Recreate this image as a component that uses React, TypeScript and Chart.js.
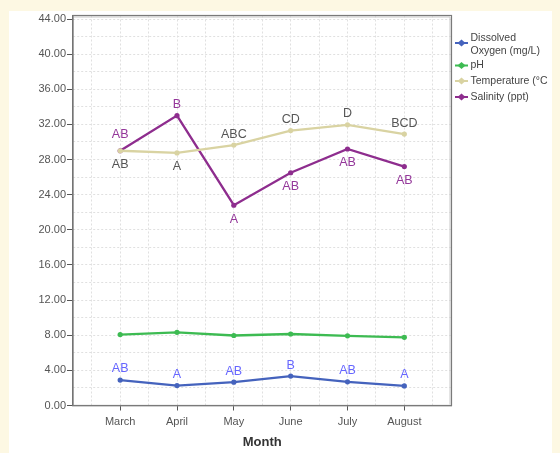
import React, { useEffect, useRef } from 'react';
import { Chart, registerables } from 'chart.js';

Chart.register(...registerables);

const months = ['March', 'April', 'May', 'June', 'July', 'August'];
const dissolvedOxygen = [2.9, 2.27, 2.65, 3.35, 2.7, 2.23];
const pHValues = [8.08, 8.33, 7.97, 8.14, 7.93, 7.76];
const temperature = [29.0, 28.75, 29.65, 31.3, 31.95, 30.9];
const salinity = [29.0, 33.0, 22.8, 26.5, 29.2, 27.2];

const doLetters = ['AB', 'A', 'AB', 'B', 'AB', 'A'];
const tempLetters = ['AB', 'A', 'ABC', 'CD', 'D', 'BCD'];
const salLetters = ['AB', 'B', 'A', 'AB', 'AB', 'AB'];

const doPlace = ['above', 'above', 'above', 'above', 'above', 'above'];
const tempPlace = ['below', 'below', 'above', 'above', 'above', 'above'];
const salPlace = ['high', 'above', 'below', 'below', 'below', 'below'];

const legendNames = [['Dissolved', 'Oxygen (mg/L)'], ['pH'], ['Temperature (°C'], ['Salinity (ppt)']];

const Y_MIN = 0;
const Y_MAX = 44.4;
const Y_STEP = 2;
const Y_LABEL_EVERY = 4;

const COLORS = {
  do: '#4563bd',
  ph: '#3dbb52',
  temp: '#d9d3a2',
  sal: '#8e2d8e',
};
const LABEL_COLORS = ['#6666ff', null, '#555555', '#94379a'];

const FONT = '"Liberation Sans", Arial, sans-serif';

const series = [
  { label: 'Dissolved Oxygen (mg/L)', values: dissolvedOxygen, color: COLORS.do, letters: doLetters, place: doPlace },
  { label: 'pH', values: pHValues, color: COLORS.ph, letters: null, place: null },
  { label: 'Temperature (°C)', values: temperature, color: COLORS.temp, letters: tempLetters, place: tempPlace },
  { label: 'Salinity (ppt)', values: salinity, color: COLORS.sal, letters: salLetters, place: salPlace },
];

const bgPlugin = {
  id: 'bgPlugin',
  beforeDraw(chart: any) {
    const ctx = chart.ctx;
    ctx.save();
    ctx.fillStyle = '#fdf8e3';
    ctx.fillRect(0, 0, chart.width, chart.height);
    ctx.fillStyle = '#ffffff';
    ctx.fillRect(9, 11, 543, chart.height - 11);
    ctx.restore();
  },
};

const framePlugin = {
  id: 'framePlugin',
  afterDraw(chart: any) {
    const { ctx, chartArea } = chart;
    ctx.save();
    ctx.strokeStyle = '#c8c8c8';
    ctx.lineWidth = 1;
    ctx.beginPath();
    ctx.moveTo(chartArea.left + 1, chartArea.top + 1.5);
    ctx.lineTo(chartArea.right - 1.5, chartArea.top + 1.5);
    ctx.lineTo(chartArea.right - 1.5, chartArea.bottom - 1);
    ctx.stroke();
    ctx.strokeStyle = '#7a7a7a';
    ctx.lineWidth = 1.2;
    ctx.strokeRect(chartArea.left, chartArea.top, chartArea.right - chartArea.left, chartArea.bottom - chartArea.top);
    ctx.restore();

    // legend
    const rows = [43, 65.5, 81, 97];
    const textLines = [[38, 51], [65.5], [81], [97]];
    ctx.save();
    ctx.beginPath();
    ctx.rect(452, 0, 100, chart.height);
    ctx.clip();
    series.forEach((s, i) => {
      const y = rows[i];
      ctx.strokeStyle = s.color;
      ctx.lineWidth = 2;
      ctx.beginPath();
      ctx.moveTo(455, y);
      ctx.lineTo(468, y);
      ctx.stroke();
      ctx.fillStyle = s.color;
      ctx.beginPath();
      ctx.moveTo(461.5, y - 3.5);
      ctx.lineTo(465.5, y);
      ctx.lineTo(461.5, y + 3.5);
      ctx.lineTo(457.5, y);
      ctx.closePath();
      ctx.fill();
      ctx.fillStyle = '#444444';
      ctx.font = `10.5px ${FONT}`;
      ctx.textBaseline = 'middle';
      ctx.textAlign = 'left';
      legendNames[i].forEach((t, k) => {
        ctx.fillText(t, 470.5, textLines[i][k]);
      });
    });
    ctx.restore();
  },
};

const lettersPlugin = {
  id: 'lettersPlugin',
  afterDatasetsDraw(chart: any) {
    const ctx = chart.ctx;
    ctx.save();
    ctx.font = `12.5px ${FONT}`;
    ctx.textAlign = 'center';
    ctx.textBaseline = 'middle';
    series.forEach((s, i) => {
      if (!s.letters) return;
      const meta = chart.getDatasetMeta(i);
      ctx.fillStyle = LABEL_COLORS[i] as string;
      meta.data.forEach((pt: any, j: number) => {
        const p = s.place![j];
        const dy = p === 'high' ? -16 : p === 'above' ? -11 : 14;
        ctx.fillText(s.letters![j], pt.x, pt.y + dy);
      });
    });
    ctx.restore();
  },
};

export default function App() {
  const ref = useRef<HTMLCanvasElement | null>(null);

  useEffect(() => {
    if (!ref.current) return;
    const chart = new Chart(ref.current, {
      type: 'line',
      data: {
        datasets: series.map((s) => ({
          label: s.label,
          data: s.values.map((v, i) => ({ x: i, y: v })),
          borderColor: s.color,
          backgroundColor: s.color,
          borderWidth: 2.3,
          pointRadius: 2.6,
          pointBackgroundColor: s.color,
          pointBorderWidth: 0,
          tension: 0,
          fill: false,
        })),
      },
      options: {
        responsive: false,
        animation: false,
        devicePixelRatio: 1,
        layout: { padding: { left: 0, top: 15.5, right: 108.5, bottom: 0 } },
        plugins: {
          legend: { display: false },
          tooltip: { enabled: false },
        },
        scales: {
          x: {
            type: 'linear',
            min: -0.83,
            max: 5.83,
            afterFit: (scale: any) => {
              scale.height = 47.5;
            },
            ticks: {
              stepSize: 0.5,
              includeBounds: false,
              autoSkip: false,
              maxRotation: 0,
              padding: 5,
              color: '#555555',
              font: { family: FONT, size: 11 },
              callback: (v: any) => {
                const n = Number(v);
                return Number.isInteger(n) ? months[n] : '';
              },
            },
            grid: {
              color: '#e0e0e0',
              lineWidth: 1,
              tickLength: 5,
              tickColor: (c: any) => (c.tick && Number.isInteger(c.tick.value) ? '#555555' : 'rgba(0,0,0,0)'),
            },
            border: { display: true, color: '#6e6e6e', width: 1.2, dash: [2, 2] },
            title: {
              display: true,
              text: 'Month',
              color: '#333333',
              font: { family: FONT, size: 13, weight: 'bold' },
              padding: { top: 0, bottom: 3 },
            },
          },
          y: {
            type: 'linear',
            min: Y_MIN,
            max: Y_MAX,
            afterFit: (scale: any) => {
              scale.width = 73;
            },
            ticks: {
              stepSize: Y_STEP,
              includeBounds: false,
              autoSkip: false,
              padding: 1,
              color: '#555555',
              font: { family: FONT, size: 11 },
              callback: (v: any) => {
                const n = Number(v);
                return n % Y_LABEL_EVERY === 0 ? n.toFixed(2) : '';
              },
            },
            grid: {
              color: '#e0e0e0',
              lineWidth: 1,
              tickLength: 6,
              tickColor: (c: any) => (c.tick && c.tick.value % Y_LABEL_EVERY === 0 ? '#555555' : 'rgba(0,0,0,0)'),
            },
            border: { display: true, color: '#6e6e6e', width: 1.2, dash: [2, 2] },
          },
        },
      },
      plugins: [bgPlugin, lettersPlugin, framePlugin],
    } as any);
    return () => chart.destroy();
  }, []);

  return (
    <div style={{ position: 'absolute', left: 0, top: 0, width: 560, height: 453 }}>
      <canvas ref={ref} width={560} height={453} style={{ display: 'block', width: 560, height: 453 }} />
    </div>
  );
}
